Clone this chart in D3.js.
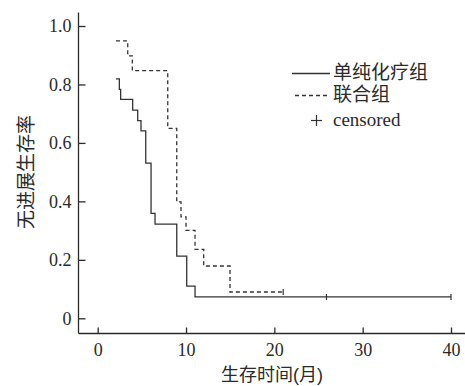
<!DOCTYPE html>
<html><head><meta charset="utf-8">
<script src="https://cdn.jsdelivr.net/npm/d3@7"></script>
<style>
html,body{margin:0;padding:0;background:#fff;}
svg{display:block;}
</style></head>
<body>
<svg id="chart" width="465" height="386"></svg>
<script>
// Kaplan-Meier step data (time in months, survival proportion)
const chemoTimes  = [2.07, 2.45, 2.6, 3.96, 4.53, 4.9, 5.44, 6.04, 6.49, 8.95, 10.08, 11.02, 40];
const chemoValues = [0.819, 0.783, 0.749, 0.712, 0.676, 0.641, 0.531, 0.359, 0.322, 0.213, 0.110, 0.073, 0.073];
const comboTimes  = [2.07, 3.40, 3.92, 7.93, 8.95, 9.43, 10.0, 11.02, 12.0, 14.98, 21.0];
const comboValues = [0.949, 0.898, 0.847, 0.650, 0.398, 0.347, 0.301, 0.236, 0.179, 0.090, 0.090];
const chemoCensorTimes = [25.9, 40];
const chemoCensorValues = [0.073, 0.073];
const comboCensorTimes = [21.0];
const comboCensorValues = [0.090];
const xTicks = [0, 10, 20, 30, 40];
const yTicks = [0, 0.2, 0.4, 0.6, 0.8, 1.0];
const yTickLabels = ["0", "0.2", "0.4", "0.6", "0.8", "1.0"];
const seriesNames = ["单纯化疗组", "联合组"];
const censorLabel = "censored";
const xTitle = "生存时间(月)";
const yTitle = "无进展生存率";

const SERIF = "'Liberation Serif','Times New Roman','DejaVu Serif',serif";
const CJK = "'Liberation Sans','Noto Sans CJK SC',sans-serif";

const svg = d3.select("#chart");
const ink = "#2a2a2a";
const x = d3.scaleLinear().domain([0, 40]).range([97.7, 451]);
const y = d3.scaleLinear().domain([0, 1]).range([318.3, 26]);
const axisX0 = 78.5, axisY0 = 333.5;

// axis lines
svg.append("line").attr("x1", axisX0).attr("x2", axisX0).attr("y1", 12.5).attr("y2", axisY0)
  .attr("stroke", ink).attr("stroke-width", 1.3);
svg.append("line").attr("x1", axisX0).attr("x2", 465).attr("y1", axisY0).attr("y2", axisY0)
  .attr("stroke", ink).attr("stroke-width", 1.3);

// y axis ticks
const gy = svg.append("g").attr("transform", `translate(${axisX0},0)`)
  .call(d3.axisLeft(y).tickValues(yTicks).tickSize(-7).tickPadding(7)
    .tickFormat((d, i) => yTickLabels[i]));
gy.attr("font-family", null).attr("font-size", null);
gy.select(".domain").remove();
gy.selectAll(".tick line").attr("stroke", ink).attr("stroke-width", 1.3);
gy.selectAll(".tick text").style("font-family", SERIF).style("font-size", "18px").attr("fill", ink);

// x axis ticks
const gx = svg.append("g").attr("transform", `translate(0,${axisY0})`)
  .call(d3.axisBottom(x).tickValues(xTicks).tickSize(-6).tickPadding(10).tickFormat(d3.format("d")));
gx.attr("font-family", null).attr("font-size", null);
gx.select(".domain").remove();
gx.selectAll(".tick line").attr("stroke", ink).attr("stroke-width", 1.3);
gx.selectAll(".tick text").style("font-family", SERIF).style("font-size", "18px").attr("fill", ink);

// step lines
const step = d3.line().x(d => x(d[0])).y(d => y(d[1])).curve(d3.curveStepAfter);
const chemo = chemoTimes.map((t, i) => [t, chemoValues[i]]);
const combo = comboTimes.map((t, i) => [t, comboValues[i]]);
svg.append("path").attr("d", step(chemo)).attr("fill", "none")
  .attr("stroke", "#333").attr("stroke-width", 1.3);
svg.append("path").attr("d", step(combo)).attr("fill", "none")
  .attr("stroke", "#333").attr("stroke-width", 1.3).attr("stroke-dasharray", "4,3");

// censor marks
const censors = chemoCensorTimes.map((t, i) => [t, chemoCensorValues[i]])
  .concat(comboCensorTimes.map((t, i) => [t, comboCensorValues[i]]));
svg.selectAll(".cens").data(censors).enter().append("line")
  .attr("x1", d => x(d[0])).attr("x2", d => x(d[0]))
  .attr("y1", d => y(d[1]) - 3).attr("y2", d => y(d[1]) + 3)
  .attr("stroke", "#333").attr("stroke-width", 1.2);

// legend
const lg = svg.append("g");
lg.append("line").attr("x1", 292).attr("x2", 330).attr("y1", 73.5).attr("y2", 73.5)
  .attr("stroke", "#333").attr("stroke-width", 1.3);
lg.append("line").attr("x1", 295).attr("x2", 330).attr("y1", 95.5).attr("y2", 95.5)
  .attr("stroke", "#333").attr("stroke-width", 1.3).attr("stroke-dasharray", "4,3");
lg.append("line").attr("x1", 311).attr("x2", 322).attr("y1", 120.5).attr("y2", 120.5)
  .attr("stroke", "#333").attr("stroke-width", 1.2);
lg.append("line").attr("x1", 316.5).attr("x2", 316.5).attr("y1", 115).attr("y2", 126)
  .attr("stroke", "#333").attr("stroke-width", 1.2);
lg.append("text").attr("x", 333).attr("y", 78.5).text(seriesNames[0]).attr("fill", ink)
  .style("font-family", CJK).style("font-size", "19px");
lg.append("text").attr("x", 333).attr("y", 100.5).text(seriesNames[1]).attr("fill", ink)
  .style("font-family", CJK).style("font-size", "19px");
lg.append("text").attr("x", 333).attr("y", 126).text(censorLabel).attr("fill", ink)
  .style("font-family", SERIF).style("font-size", "19px");

// axis titles
svg.append("text").attr("x", 272).attr("y", 381).attr("text-anchor", "middle").text(xTitle)
  .style("font-family", CJK).style("font-size", "18px").attr("fill", ink);
svg.append("text").attr("transform", "translate(33,172) rotate(-90)").attr("text-anchor", "middle")
  .text(yTitle).style("font-family", CJK).style("font-size", "19px").attr("fill", ink);
</script>
</body></html>
